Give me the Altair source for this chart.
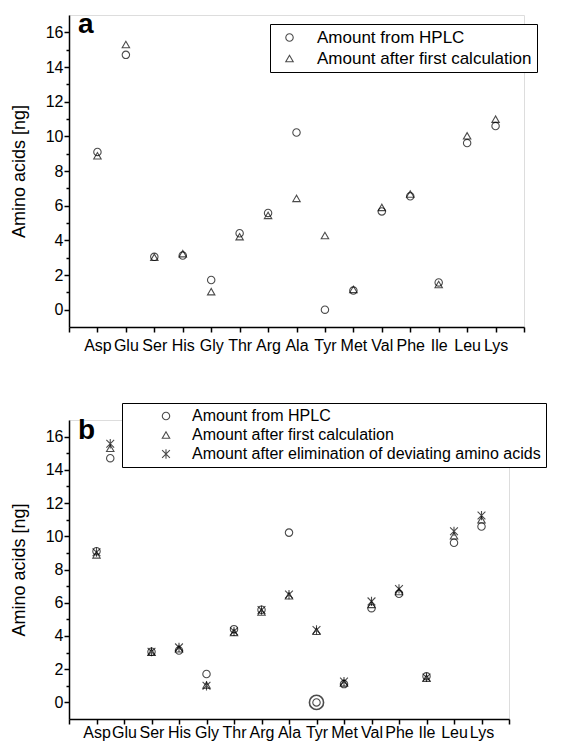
import json
import altair as alt
import pandas as pd

# ---- data ----
amino = ["Asp", "Glu", "Ser", "His", "Gly", "Thr", "Arg", "Ala",
         "Tyr", "Met", "Val", "Phe", "Ile", "Leu", "Lys"]
hplc = [9.1, 14.7, 3.05, 3.12, 1.71, 4.41, 5.58, 10.22, 0.0, 1.1, 5.67, 6.54, 1.57, 9.61, 10.59]
first_calc = [8.88, 15.3, 3.02, 3.23, 1.04, 4.21, 5.44, 6.42, 4.28, 1.17, 5.9, 6.67, 1.45, 10.03, 10.99]
eliminated = [9.04, 15.57, 3.05, 3.31, 1.0, 4.28, 5.56, 6.49, 4.36, 1.25, 6.08, 6.83, 1.5, 10.3, 11.25]
# category positions on the x axis (panel b draws Glu shifted left, as in the original)
pos_a = [1, 2, 3, 4, 5, 6, 7, 8, 9, 10, 11, 12, 13, 14, 15]
pos_b = [1, 1.5, 3, 4, 5, 6, 7, 8, 9, 10, 11, 12, 13, 14, 15]
highlight_acid = ["Tyr"]
highlight_value = [0.0]

series_names = ["Amount from HPLC",
                "Amount after first calculation",
                "Amount after elimination of deviating amino acids"]
y_ticks = list(range(0, 17))
x_ticks = list(range(0, 17))

FONT = "Liberation Sans"
ASTERISK = "M0,-1.25L0,1.25M-1.05,-1.05L1.05,1.05M-1.05,1.05L1.05,-1.05"


def long_df(series_lists, names, positions):
    rows = []
    for name, vals in zip(names, series_lists):
        for p, a, v in zip(positions, amino, vals):
            rows.append({"pos": p, "acid": a, "value": v, "series": name})
    return pd.DataFrame(rows)


x_label_expr = json.dumps([""] + amino + [""]) + "[datum.value]"


def make_panel(series_lists, names, shapes, positions, letter, width, height,
               legend_x, legend_y, legend_font, symbol_offset, label_offset,
               x_label_pad, letter_y, highlight=False):
    df = long_df(series_lists, names, positions)
    x_axis = alt.Axis(values=x_ticks, labelExpr=x_label_expr, title=None,
                      grid=False, tickSize=5, tickWidth=1.5, tickColor="black",
                      domainColor="black", domainWidth=1.5,
                      labelFont=FONT, labelFontSize=16, labelColor="black",
                      labelPadding=x_label_pad, labelOverlap=False, labelFlush=False,
                      labelBound=False)
    y_axis = alt.Axis(values=y_ticks,
                      labelExpr="datum.value % 2 === 0 ? datum.label : ''",
                      tickSize={"condition": {"test": "datum.value % 2 === 0", "value": 5}, "value": 3},
                      tickWidth=1.5, tickColor="black",
                      domainColor="black", domainWidth=1.5, grid=False,
                      labelFont=FONT, labelFontSize=16, labelColor="black",
                      labelPadding=1, labelOverlap=False,
                      title="Amino acids [ng]", titleFont=FONT, titleFontSize=18,
                      titleFontWeight="normal", titleColor="black", titlePadding=17)
    x_enc = alt.X("pos:Q", scale=alt.Scale(domain=[0, 16], nice=False, zero=False), axis=x_axis)
    y_enc = alt.Y("value:Q", scale=alt.Scale(domain=[-1, 17], nice=False, zero=False), axis=y_axis)
    legend = alt.Legend(orient="none", legendX=legend_x, legendY=legend_y, title=None,
                        strokeColor="black", fillColor="white", padding=5,
                        labelFont=FONT, labelFontSize=legend_font, labelColor="black",
                        symbolOffset=symbol_offset, labelOffset=label_offset,
                        rowPadding=3, symbolSize=55, symbolStrokeWidth=1.1,
                        symbolStrokeColor="black", labelLimit=600)
    points = alt.Chart(df).mark_point(filled=False, color="black", strokeWidth=1.1, size=55).encode(
        x=x_enc,
        y=y_enc,
        shape=alt.Shape("series:N", scale=alt.Scale(domain=names, range=shapes), legend=legend),
    )
    label = alt.Chart(pd.DataFrame({"t": [letter]})).mark_text(
        font=FONT, fontSize=28, fontWeight="bold", color="black",
        align="left", baseline="alphabetic"
    ).encode(text="t:N", x=alt.value(9), y=alt.value(letter_y))
    layers = [points, label]
    if highlight:
        hdf = pd.DataFrame({"pos": [positions[amino.index(a)] for a in highlight_acid],
                            "value": highlight_value})
        ring = alt.Chart(hdf).mark_point(shape="circle", filled=False, color="black",
                                         strokeWidth=1.6, size=200).encode(
            x=x_enc, y=y_enc)
        layers.append(ring)
    return alt.layer(*layers).properties(width=width, height=height)


panel_a = make_panel([hplc, first_calc], series_names[:2], ["circle", "triangle-up"], pos_a,
                     "a", 455, 312, 201, 9, 17, 6, 19, 5, 18)
panel_b = make_panel([hplc, first_calc, eliminated], series_names,
                     ["circle", "triangle-up", ASTERISK], pos_b,
                     "b", 440, 299, 53, -17, 16, 31, 18, 0, 19, highlight=True)

chart = alt.vconcat(panel_a, panel_b, spacing=48).resolve_scale(
    shape="independent", x="independent", y="independent"
).resolve_legend(shape="independent").properties(
    padding={"left": 1, "top": 2, "right": 0, "bottom": 0}
).configure_view(stroke=None).configure(background="white")

chart.save("out.html", embed_options={"renderer": "svg", "actions": False})
